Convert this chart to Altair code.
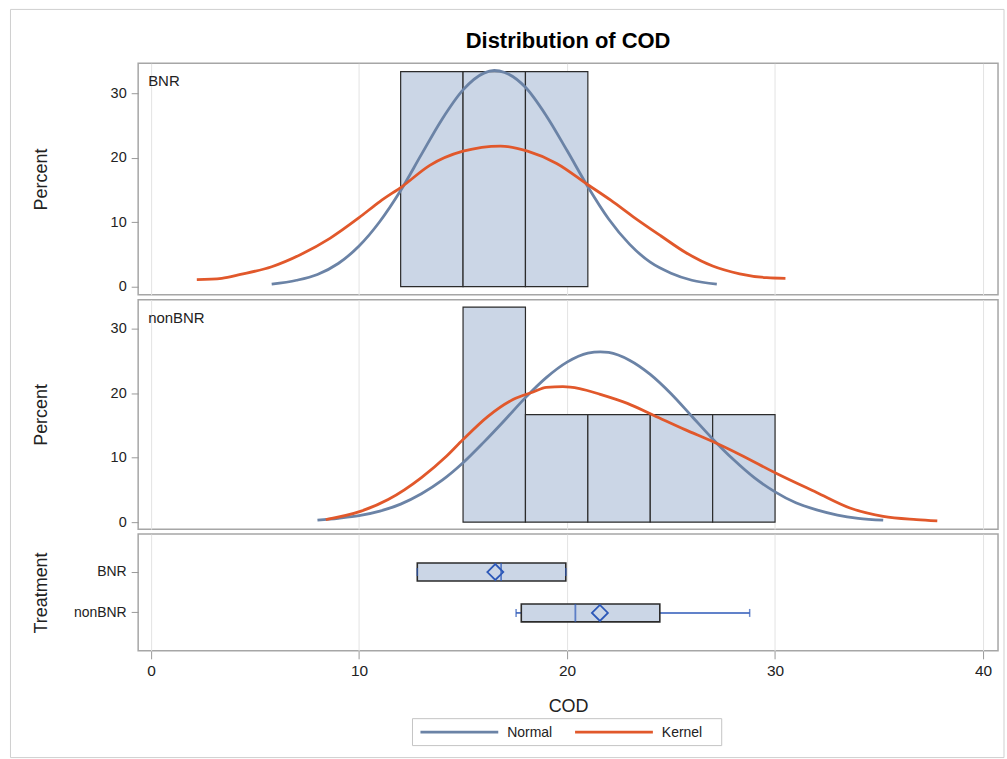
import altair as alt
import pandas as pd

FONT = "Liberation Sans"
NORMAL_COLOR = "#6b83a6"
KERNEL_COLOR = "#e1582b"
BAR_FILL = "#cbd6e6"
EDGE = "#2b2b2b"
BOX_BLUE = "#2c58b8"
GRID = "#e3e3e3"
FRAME = "#a6a6a6"
TEXT = "#222222"

# ---- histogram bins of COD and percent of observations per bin ----
bnr_bin_start = [12, 15, 18]
bnr_bin_end = [15, 18, 21]
bnr_percent = [33.33, 33.33, 33.33]

nonbnr_bin_start = [15, 18, 21, 24, 27]
nonbnr_bin_end = [18, 21, 24, 27, 30]
nonbnr_percent = [33.33, 16.67, 16.67, 16.67, 16.67]

# ---- fitted density curves, in percent units ----
bnr_normal_x = [5.8, 7, 8, 9, 10, 11, 12, 13, 14, 15, 16, 16.5, 17, 18, 19, 20, 21, 22, 23, 24, 25, 26, 27.2]
bnr_normal_y = [0.4, 1.0, 1.9, 3.6, 6.3, 10.1, 14.9, 20.5, 26.0, 30.5, 33.1, 33.5, 33.2, 30.9, 26.5, 21.1, 15.5, 10.5, 6.6, 3.8, 2.1, 1.0, 0.4]

bnr_kernel_x = [2.2, 3.4, 4.3, 5.8, 7.2, 8.6, 10.0, 11.0, 12.1, 13.4, 15.0, 16.8, 18.1, 19.5, 21.0, 22.1, 23.2, 24.5, 25.7, 27.0, 28.3, 29.6, 30.5]
bnr_kernel_y = [1.1, 1.3, 1.9, 3.1, 5.0, 7.5, 10.7, 13.2, 15.6, 18.8, 21.0, 21.8, 21.0, 19.1, 15.8, 13.4, 10.8, 7.9, 5.3, 3.2, 2.0, 1.4, 1.3]

nonbnr_normal_x = [8.0, 9, 10, 11, 12, 13, 14, 15, 16, 17, 18, 19, 20, 21, 21.6, 22, 23, 24, 25, 26, 27, 28, 29, 30, 31, 32, 33, 34, 35.2]
nonbnr_normal_y = [0.3, 0.6, 1.0, 1.7, 2.8, 4.4, 6.5, 9.2, 12.4, 15.8, 19.3, 22.4, 24.8, 26.2, 26.4, 26.3, 25.1, 22.9, 19.9, 16.4, 12.9, 9.7, 6.9, 4.7, 3.0, 1.9, 1.1, 0.6, 0.3]

nonbnr_kernel_x = [8.4, 10.1, 11.4, 13.0, 14.2, 15.0, 16.2, 17.4, 18.4, 19.0, 19.8, 20.6, 21.6, 22.9, 24.2, 25.7, 27.0, 28.3, 30.1, 32.0, 33.6, 35.2, 36.8, 37.8]
nonbnr_kernel_y = [0.4, 1.7, 3.5, 6.9, 10.2, 12.8, 16.4, 19.0, 20.2, 20.9, 21.0, 20.7, 19.8, 18.4, 16.5, 14.3, 12.5, 10.5, 7.5, 4.6, 2.2, 0.9, 0.4, 0.2]

# ---- box plot summary per treatment ----
treatments = ["BNR", "nonBNR"]
cod_min = [12.8, 17.55]
cod_q1 = [12.8, 17.8]
cod_median = [16.83, 20.4]
cod_q3 = [19.94, 24.46]
cod_max = [19.94, 28.78]
cod_mean = [16.55, 21.58]

legend_labels = ["Normal", "Kernel"]

X_DOMAIN = [-0.62, 40.72]
X_TICKS = [0, 10, 20, 30, 40]
PANEL_W = 862

x_scale = alt.Scale(domain=X_DOMAIN, nice=False, zero=False)
color_scale = alt.Scale(domain=legend_labels, range=[NORMAL_COLOR, KERNEL_COLOR])

hidden_x = alt.Axis(values=X_TICKS, grid=True, gridColor=GRID, labels=False,
                    ticks=False, domain=False, title=None)


def y_axis(title, height):
    return alt.Axis(
        values=[0, 10, 20, 30], title=title, grid=False, domain=False,
        tickSize=7, tickColor="#9a9a9a", labelPadding=5, labelFont=FONT,
        labelFontSize=14.5, labelColor=TEXT, titleFont=FONT, titleFontSize=18,
        titleFontWeight="normal", titleColor=TEXT, titleAngle=270,
        titleAlign="center", titleBaseline="middle", titleX=-97, titleY=height / 2,
    )


def curve_frame(xs, ys, name):
    return pd.DataFrame({"cod": xs, "pct": ys, "curve": name})


def histogram_panel(label, starts, ends, pcts, normal, kernel, height, y_domain, extras=()):
    bins = pd.DataFrame({"start": starts, "end": ends, "pct": pcts})
    y_scale = alt.Scale(domain=y_domain, nice=False, zero=False)

    bars = alt.Chart(bins).mark_rect(fill=BAR_FILL, stroke=EDGE, strokeWidth=1.2).encode(
        x=alt.X("start:Q", scale=x_scale, axis=hidden_x),
        x2="end:Q",
        y=alt.Y("pct:Q", scale=y_scale, axis=y_axis("Percent", height)),
        y2=alt.datum(0),
    )
    lines = []
    for df in (normal, kernel):
        lines.append(
            alt.Chart(df).mark_line(strokeWidth=2.8, interpolate="monotone").encode(
                x=alt.X("cod:Q", scale=x_scale, axis=hidden_x),
                y=alt.Y("pct:Q", scale=y_scale, axis=y_axis("Percent", height)),
                color=alt.Color("curve:N", scale=color_scale, legend=None),
            )
        )
    tag = alt.Chart(pd.DataFrame({"label": [label]})).mark_text(
        font=FONT, fontSize=15, align="left", baseline="top", color=TEXT
    ).encode(x=alt.value(10), y=alt.value(11), text="label:N")

    return alt.layer(bars, *lines, tag, *extras).properties(width=PANEL_W, height=height)


# chart title and outer frame are drawn in the first panel's coordinate space
title_mark = alt.Chart(pd.DataFrame({"t": ["Distribution of COD"]})).mark_text(
    font=FONT, fontSize=22, fontWeight="bold", align="center", baseline="middle", color="#000"
).encode(x=alt.value(431), y=alt.value(-22), text="t:N")

outer_frame = alt.Chart(pd.DataFrame({"k": [0]})).mark_rect(
    fill=None, stroke="#cfcfcf", strokeWidth=1
).encode(x=alt.value(-128), x2=alt.value(868), y=alt.value(-54), y2=alt.value(696))

top = histogram_panel(
    "BNR", bnr_bin_start, bnr_bin_end, bnr_percent,
    curve_frame(bnr_normal_x, bnr_normal_y, "Normal"),
    curve_frame(bnr_kernel_x, bnr_kernel_y, "Kernel"),
    232, [-1.24, 34.62], extras=(outer_frame, title_mark),
)
middle = histogram_panel(
    "nonBNR", nonbnr_bin_start, nonbnr_bin_end, nonbnr_percent,
    curve_frame(nonbnr_normal_x, nonbnr_normal_y, "Normal"),
    curve_frame(nonbnr_kernel_x, nonbnr_kernel_y, "Kernel"),
    230, [-1.08, 34.47],
)

# ---- box plot panel ----
box = pd.DataFrame({
    "treatment": treatments, "lo": cod_min, "q1": cod_q1, "med": cod_median,
    "q3": cod_q3, "hi": cod_max, "mean": cod_mean,
})
BOX_H = 117
band = alt.Scale(domain=treatments, paddingInner=0.561, paddingOuter=0.7075)
bottom_x = alt.Axis(
    values=X_TICKS, grid=True, gridColor=GRID, domain=False, tickSize=8,
    tickColor="#9a9a9a", labelFont=FONT, labelFontSize=15.5, labelColor=TEXT,
    labelPadding=5, title="COD", titleFont=FONT, titleFontSize=18,
    titleFontWeight="normal", titleColor=TEXT, titlePadding=18,
)
treat_axis = alt.Axis(
    title="Treatment", domain=False, tickSize=7, tickColor="#9a9a9a",
    labelPadding=5, labelFont=FONT, labelFontSize=14, labelColor=TEXT,
    titleFont=FONT, titleFontSize=18, titleFontWeight="normal", titleColor=TEXT,
    titleAngle=270, titleAlign="center", titleBaseline="middle",
    titleX=-97, titleY=BOX_H / 2,
)
ybox = alt.Y("treatment:N", scale=band, axis=treat_axis)
base = alt.Chart(box)

whisker_lo = base.mark_rule(color=BOX_BLUE, strokeWidth=1.5).encode(
    x=alt.X("lo:Q", scale=x_scale, axis=bottom_x), x2="q1:Q", y=ybox)
whisker_hi = base.mark_rule(color=BOX_BLUE, strokeWidth=1.5).encode(
    x=alt.X("q3:Q", scale=x_scale, axis=bottom_x), x2="hi:Q", y=ybox)
boxes = base.mark_rect(fill=BAR_FILL, stroke=EDGE, strokeWidth=1.6).encode(
    x=alt.X("q1:Q", scale=x_scale, axis=bottom_x), x2="q3:Q", y=ybox)
medians = base.mark_tick(color=BOX_BLUE, size=18, thickness=1.8).encode(
    x=alt.X("med:Q", scale=x_scale, axis=bottom_x), y=ybox)
means = base.mark_point(shape="diamond", size=256, filled=False, color=BOX_BLUE,
                        strokeWidth=1.8, opacity=1).encode(
    x=alt.X("mean:Q", scale=x_scale, axis=bottom_x), y=ybox)
caps_lo = base.mark_tick(color=BOX_BLUE, size=8, thickness=1.5).encode(
    x=alt.X("lo:Q", scale=x_scale, axis=bottom_x), y=ybox)
caps_hi = base.mark_tick(color=BOX_BLUE, size=8, thickness=1.5).encode(
    x=alt.X("hi:Q", scale=x_scale, axis=bottom_x), y=ybox)

# legend for the two density curves, drawn below the COD axis
one = pd.DataFrame({"k": [0]})
legend_box = alt.Chart(one).mark_rect(fill="white", stroke="#c4c4c4", strokeWidth=1).encode(
    x=alt.value(275), x2=alt.value(585), y=alt.value(185), y2=alt.value(212))
legend_parts = [legend_box]
for name, color, line_x0, text_x in zip(legend_labels, [NORMAL_COLOR, KERNEL_COLOR], [283, 438], [370, 525]):
    legend_parts.append(
        alt.Chart(one).mark_rule(color=color, strokeWidth=3).encode(
            x=alt.value(line_x0), x2=alt.value(line_x0 + 78), y=alt.value(198.5))
    )
    legend_parts.append(
        alt.Chart(pd.DataFrame({"label": [name]})).mark_text(
            font=FONT, fontSize=14, align="left", baseline="middle", color=TEXT
        ).encode(x=alt.value(text_x), y=alt.value(199), text="label:N")
    )

boxplot = alt.layer(
    whisker_lo, whisker_hi, boxes, medians, means, caps_lo, caps_hi, *legend_parts
).properties(width=PANEL_W, height=BOX_H)

chart = alt.vconcat(top, middle, boxplot, spacing=5, bounds="flush").resolve_scale(
    color="shared", y="independent"
).properties(
    autosize=alt.AutoSizeParams(type="pad"),
    padding={"left": 8.5, "top": 6.5, "right": 1, "bottom": 1},
    background="white",
).configure_view(stroke=FRAME, strokeWidth=1.5)

chart.save("out.html", embed_options={"renderer": "svg", "actions": False})
